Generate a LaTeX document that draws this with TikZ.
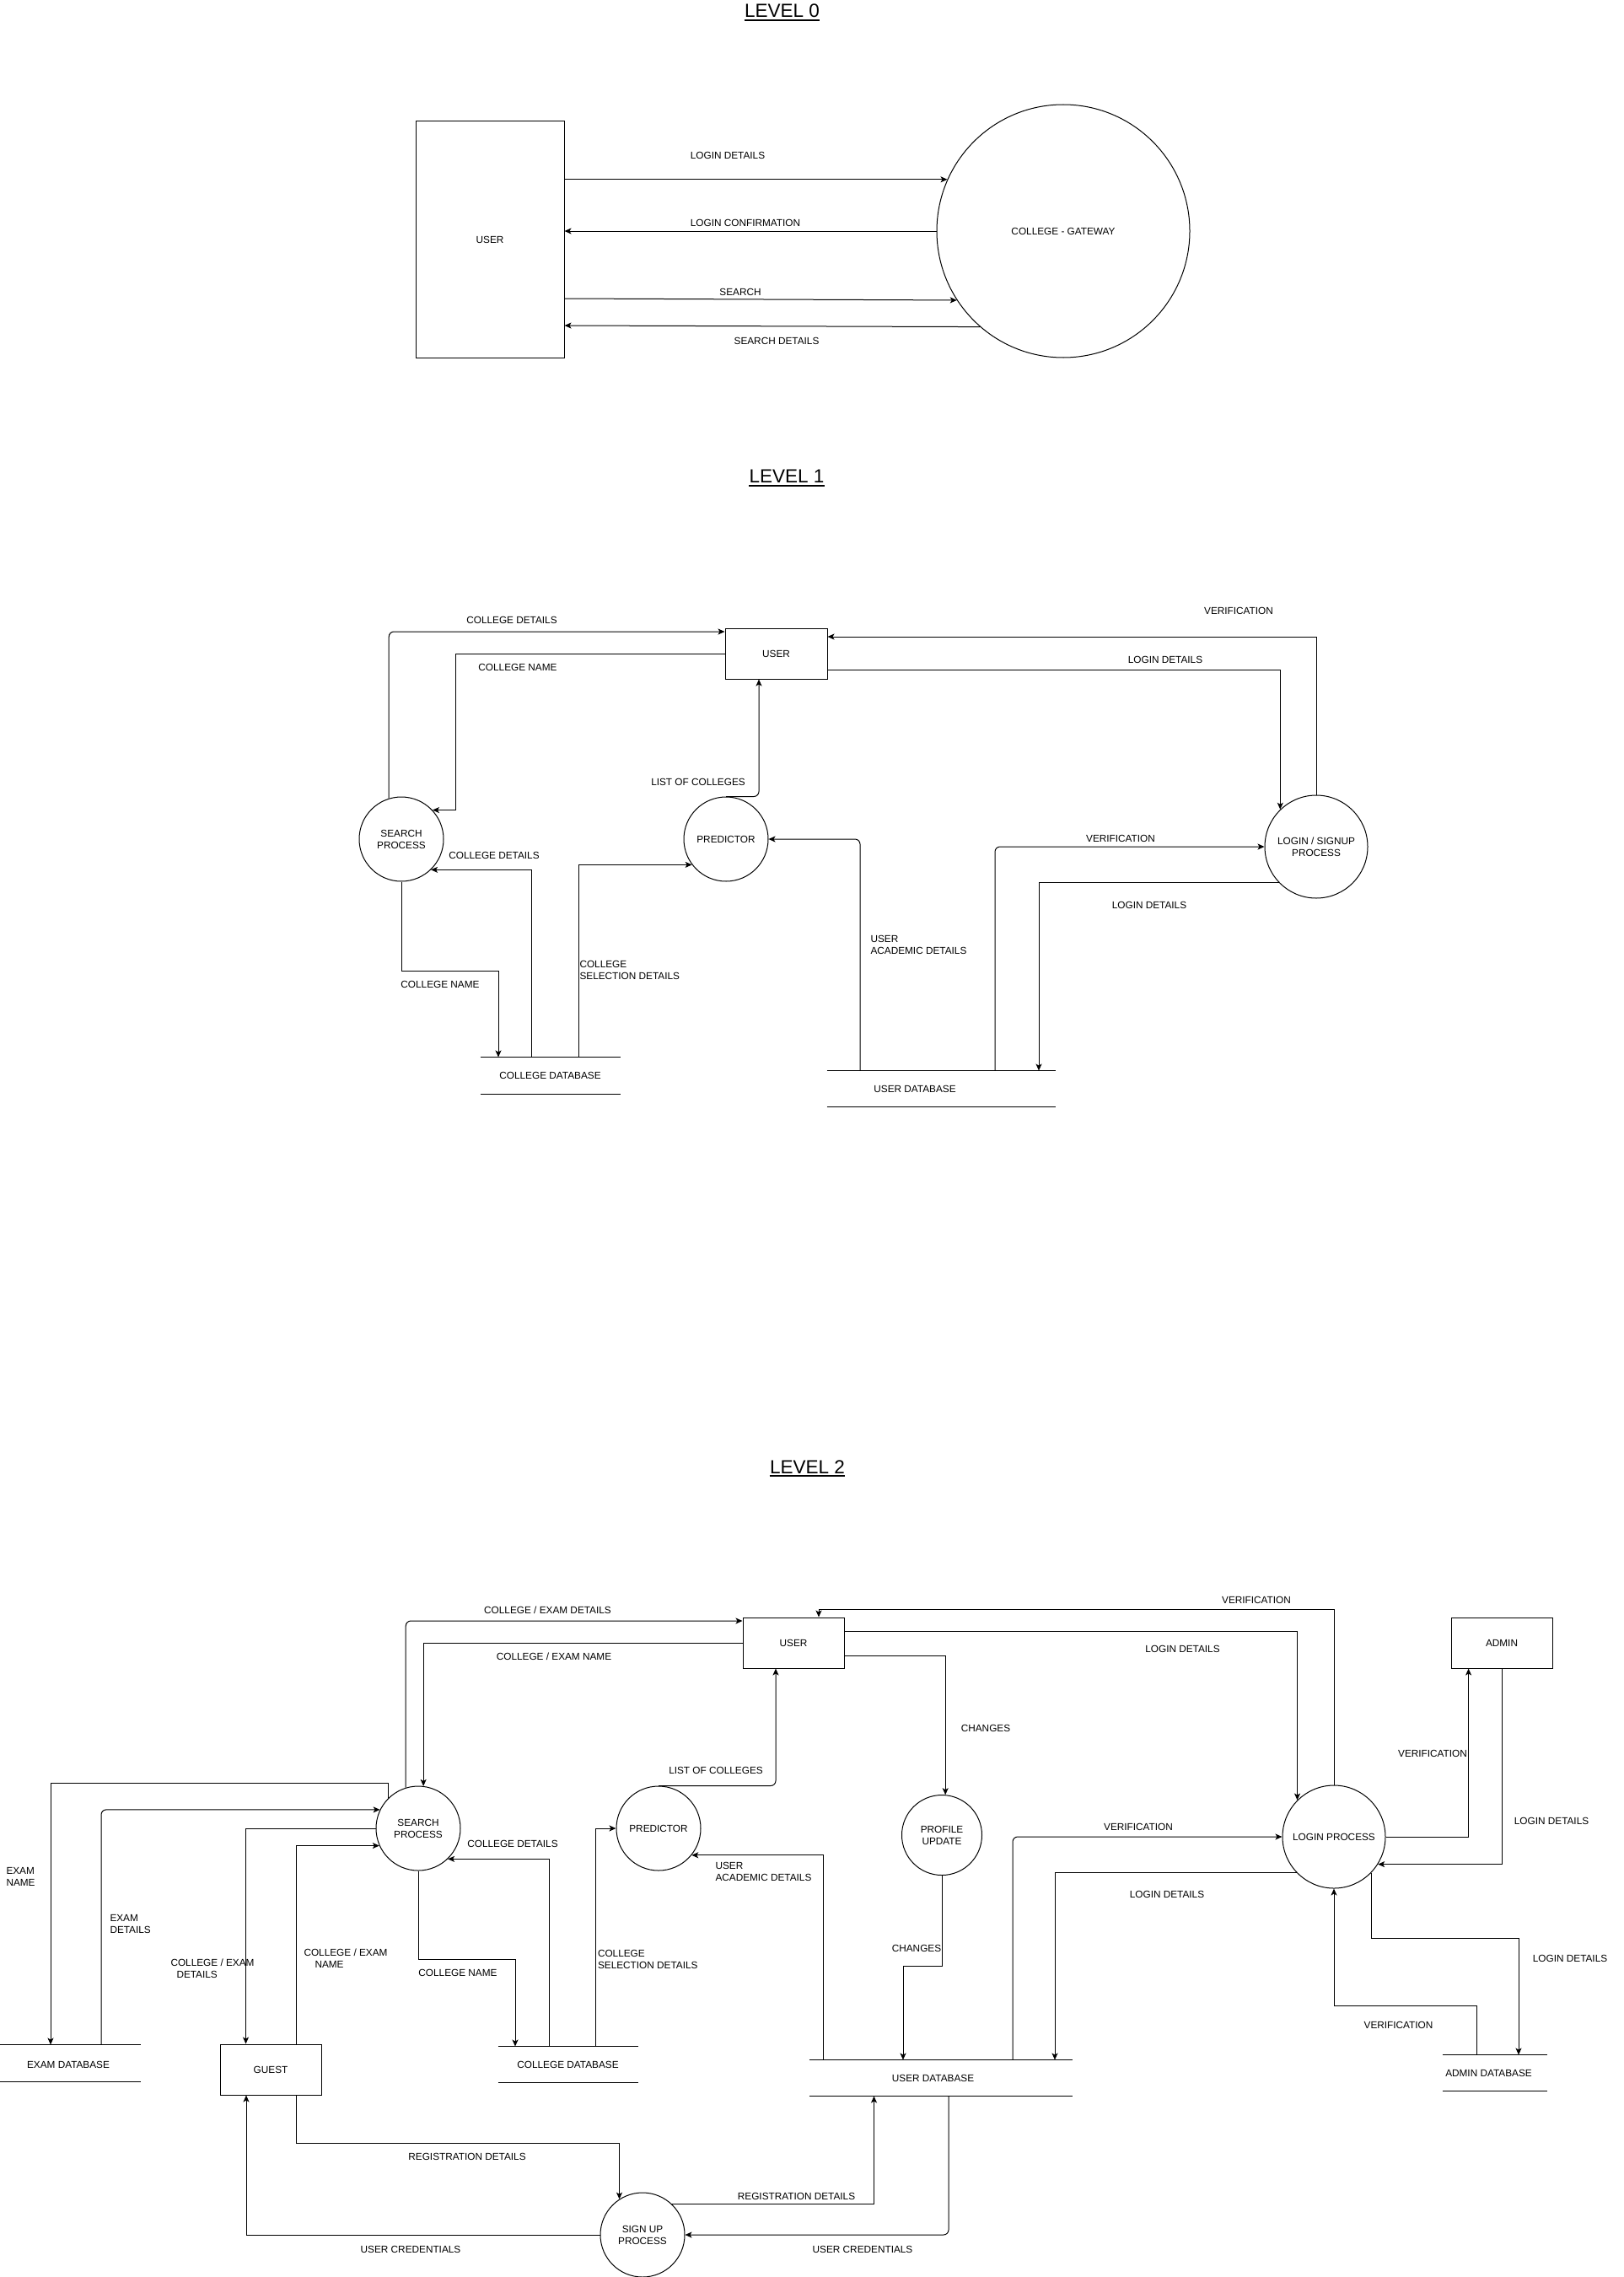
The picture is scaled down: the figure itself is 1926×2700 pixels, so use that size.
\documentclass[tikz,border=0pt]{standalone}
\usepackage{fontspec}
\setmainfont{Liberation Sans}
\usetikzlibrary{arrows.meta}
\begin{document}
\begin{tikzpicture}[x=1pt,y=-1pt,line width=1pt,
  every node/.style={font=\fontsize{11.8}{14}\selectfont,inner sep=0pt},
  ent/.style={draw,rectangle,align=center},
  bubble/.style={draw,circle,align=center,minimum size=#1},
  store/.style={rectangle,minimum width=#1,minimum height=42},
  lblL/.style={anchor=west,align=left},
  title/.style={font=\fontsize{22.5}{27}\selectfont,anchor=base},
  flow/.style={-{Stealth[length=8pt,width=7pt,inset=2pt]}},
  rc/.style={rounded corners=6pt}]

\fill[white] (0,0) rectangle (1926,2700);
\useasboundingbox (0,0) rectangle (1926,2700);

% ---------- titles ----------
\node[title] (t0) at (927.5,20.7) {LEVEL 0};
\node[title] (t1) at (933,572.7) {LEVEL 1};
\node[title] (t2) at (957.5,1747.3) {LEVEL 2};
\foreach \t in {t0,t1,t2}
  \draw[line width=1.8pt] ([yshift=-3pt]\t.base west) -- ([yshift=-3pt]\t.base east);

% ---------- level 0 ----------
\node[ent,minimum width=176,minimum height=280] (user0) at (581,284) {USER};
\node[bubble=300] (gate0) at (1261,274) {COLLEGE - GATEWAY};

\draw[flow] (user0.east |- gate0.156) -- (gate0.156);
\draw[flow] (gate0.west) -- (user0.east |- gate0.west);
\draw[flow] (user0.east |- 0,354) -- (gate0.213);
\draw[flow] (gate0.229) -- (user0.east |- 0,386);

\node (l0a) at (863,184) {LOGIN DETAILS};
\node (l0b) at (884,264) {LOGIN CONFIRMATION};
\node (l0c) at (878,346) {SEARCH};
\node (l0d) at (921,404) {SEARCH DETAILS};

% ---------- level 1 ----------
\node[ent,minimum width=121,minimum height=60] (user1) at (920.5,775) {USER};
\node[bubble=100] (search1) at (476,995) {SEARCH\\PROCESS};
\node[bubble=100] (pred1) at (861,995) {PREDICTOR};
\node[bubble=122] (login1) at (1561,1004) {LOGIN / SIGNUP\\PROCESS};
\node[store=165,minimum height=43,label={center:COLLEGE DATABASE}] (cdb1) at (652.5,1275.5) {};
\node[store=270,label={[xshift=-31pt]center:USER DATABASE}] (udb1) at (1116,1291) {};

\draw[flow,rc] (search1.107) |- (user1.west |- 0,749);
\draw[flow] (user1.west) -| (540,0 |- search1.43) -- (search1.43);
\draw[flow,rc] (pred1.north) -| (900,0 |- user1.south);
\draw[flow] (user1.east |- 0,794) -| (login1.134);
\draw[flow] (login1.north) |- (user1.east |- 0,755);
\draw[flow] (630,0 |- cdb1.north) |- (search1.314);
\draw[flow] (search1.south) -- (search1.south |- 0,1151) -| (591,0 |- cdb1.north);
\draw[flow] (686,0 |- cdb1.north) |- (pred1.217);
\draw[flow,rc] (1020,0 |- udb1.north) |- (pred1.east);
\draw[flow,rc] (1180,0 |- udb1.north) |- (login1.west);
\draw[flow] (login1.224) -| (1232,0 |- udb1.north);

\node (l1a) at (607,735) {COLLEGE DETAILS};
\node (l1b) at (614,791) {COLLEGE NAME};
\node (l1c) at (828,927) {LIST OF COLLEGES};
\node (l1d) at (1382,782) {LOGIN DETAILS};
\node (l1e) at (1469,724) {VERIFICATION};
\node (l1f) at (586,1014) {COLLEGE DETAILS};
\node (l1g) at (522,1167) {COLLEGE NAME};
\node[lblL] (l1h) at (687,1150) {COLLEGE\\SELECTION DETAILS};
\node[lblL] (l1i) at (1032,1120) {USER\\ACADEMIC DETAILS};
\node (l1j) at (1329,994) {VERIFICATION};
\node (l1k) at (1363,1073) {LOGIN DETAILS};

% ---------- level 2 ----------
\node[ent,minimum width=120,minimum height=60] (user2) at (941,1948) {USER};
\node[ent,minimum width=120,minimum height=60] (admin2) at (1781,1948) {ADMIN};
\node[ent,minimum width=120,minimum height=60] (guest2) at (321,2454) {GUEST};
\node[bubble=100] (search2) at (496,2168) {SEARCH\\PROCESS};
\node[bubble=100] (pred2) at (781,2168) {PREDICTOR};
\node[bubble=95] (prof2) at (1117,2176) {PROFILE\\UPDATE};
\node[bubble=122] (login2) at (1582,2178) {LOGIN PROCESS};
\node[bubble=100] (signup2) at (762,2650) {SIGN UP\\PROCESS};
\node[store=166,minimum height=43,label={[xshift=-2pt,yshift=-1.5pt]center:EXAM DATABASE}] (exdb2) at (83,2446.5) {};
\node[store=165,label={center:COLLEGE DATABASE}] (cdb2) at (673.5,2448) {};
\node[store=311,label={[xshift=-9pt]center:USER DATABASE}] (udb2) at (1115.5,2464) {};
\node[store=123,label={[xshift=-7pt]center:ADMIN DATABASE}] (adb2) at (1772.5,2458) {};

\foreach \s in {cdb1,udb1,exdb2,cdb2,udb2,adb2}
  \draw (\s.north west) -- (\s.north east) (\s.south west) -- (\s.south east);

\draw[flow,rc] (search2.107) |- (user2.west |- 0,1922);
\draw[flow] (user2.west) -| (search2.83);
\draw[flow] (search2.135) -- (search2.135 |- 0,2114) -| (60,0 |- exdb2.north);
\draw[flow,rc] (120,0 |- exdb2.north) |- (search2.154);
\draw[flow] (search2.west) -| (291.5,0 |- guest2.north);
\draw[flow] (351,0 |- guest2.north) |- (search2.204);
\draw[flow] (651,0 |- cdb2.north) |- (search2.314);
\draw[flow] (search2.south) -- (search2.south |- 0,2323.5) -| (611,0 |- cdb2.north);
\draw[flow] (706.5,0 |- cdb2.north) |- (pred2.west);
\draw[flow,rc] (pred2.north) -| (920,0 |- user2.south);
\draw[flow] (976,0 |- udb2.north) |- (pred2.321);
\draw[flow] (login2.north) -- (login2.north |- 0,1908) -| (971,0 |- user2.north);
\draw[flow] (user2.east |- 0,1934) -| (login2.135);
\draw[flow] (user2.east |- 0,1963.4) -| (prof2.85);
\draw[flow] (prof2.south) -- (prof2.south |- 0,2331.6) -| (1071,0 |- udb2.north);
\draw[flow,rc] (1201,0 |- udb2.north) |- (login2.west);
\draw[flow] (login2.224) -| (1251,0 |- udb2.north);
\draw[flow] (login2.east) -| (1741.6,0 |- admin2.south);
\draw[flow] (admin2.south) |- (login2.328);
\draw[flow] (login2.316) -- (login2.316 |- 0,2298.3) -| (1801,0 |- adb2.north);
\draw[flow] (1751,0 |- adb2.north) -- (1751,2378) -| (login2.south);
\draw[flow] (351.6,0 |- guest2.south) -- (351.6,2541) -| (signup2.123);
\draw[flow] (signup2.47) -| (1036.5,0 |- udb2.south);
\draw[flow] (signup2.west) -| (292,0 |- guest2.south);
\draw[flow,rc] (1125,0 |- udb2.south) |- (signup2.east);

\node (l2a) at (649.5,1909) {COLLEGE / EXAM DETAILS};
\node (l2b) at (657,1964) {COLLEGE / EXAM NAME};
\node[lblL] (l2c) at (7,2225.5) {EXAM\\NAME};
\node[lblL] (l2d) at (130,2281) {EXAM\\DETAILS};
\node[lblL] (l2e) at (202,2334) {COLLEGE / EXAM\\\hspace*{7pt}DETAILS};
\node[lblL] (l2f) at (360,2322.6) {COLLEGE / EXAM\\\hspace*{13pt}NAME};
\node (l2g) at (608,2186.5) {COLLEGE DETAILS};
\node (l2h) at (543,2339.6) {COLLEGE NAME};
\node[lblL] (l2i) at (708.5,2323) {COLLEGE\\SELECTION DETAILS};
\node (l2j) at (849,2099.7) {LIST OF COLLEGES};
\node[lblL] (l2k) at (848,2219.3) {USER\\ACADEMIC DETAILS};
\node (l2l) at (1490,1897) {VERIFICATION};
\node (l2m) at (1402.5,1955.4) {LOGIN DETAILS};
\node (l2n) at (1169,2049.5) {CHANGES};
\node (l2o) at (1087,2310.5) {CHANGES};
\node (l2p) at (1350,2166) {VERIFICATION};
\node (l2q) at (1384,2246.6) {LOGIN DETAILS};
\node (l2r) at (1699,2079.4) {VERIFICATION};
\node (l2s) at (1840,2159.8) {LOGIN DETAILS};
\node (l2t) at (1862,2322.8) {LOGIN DETAILS};
\node (l2u) at (1658.5,2401.6) {VERIFICATION};
\node (l2v) at (554,2557) {REGISTRATION DETAILS};
\node (l2w) at (944.5,2604) {REGISTRATION DETAILS};
\node (l2x) at (487,2667.7) {USER CREDENTIALS};
\node (l2y) at (1023,2667.7) {USER CREDENTIALS};
\end{tikzpicture}
\end{document}
